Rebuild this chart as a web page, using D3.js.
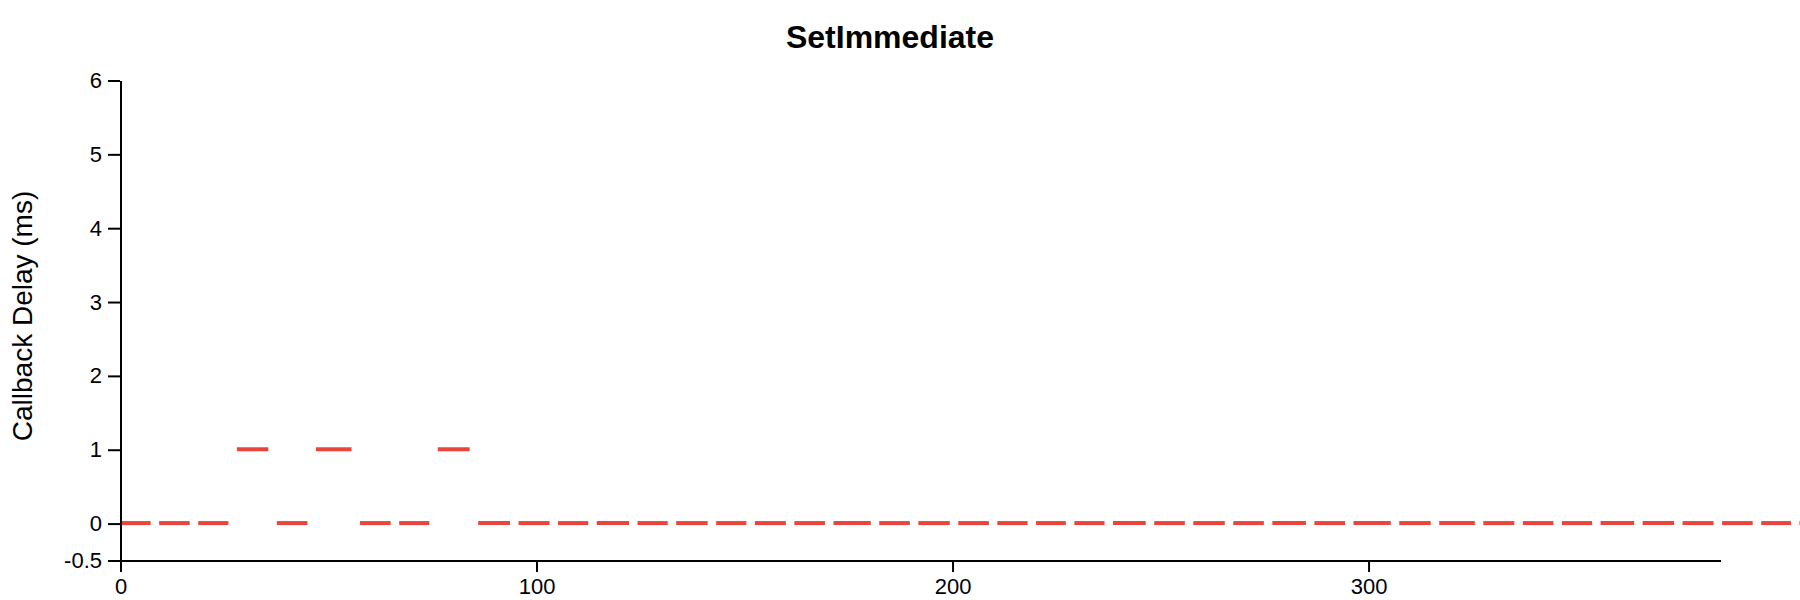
<!DOCTYPE html>
<html>
<head>
<meta charset="utf-8">
<script src="https://cdn.jsdelivr.net/npm/d3@7"></script>
<style>
  html, body { margin: 0; padding: 0; background: #fff; }
  svg { display: block; font-family: "Liberation Sans", Arial, Helvetica, sans-serif; }
</style>
</head>
<body>
<div id="chart"></div>
<script>
// Callback start times (ms); the last entry is the end of the final callback
const callbackTimes = [
  0, 9.4, 18.8, 28.1, 37.7, 47.1, 57.7, 67.1, 76.4, 86.1,
  95.8, 105.3, 114.6, 124.4, 133.7, 143.3, 152.6, 162.1, 171.5, 182.5,
  191.9, 201.5, 210.9, 220.2, 229.4, 238.7, 248.6, 258.0, 267.6, 277.0,
  287.1, 296.5, 307.5, 317.1, 327.7, 337.2, 346.6, 355.9, 366.0, 375.6,
  385.1, 394.5, 403.7, 413.0
];
// Callback delay (ms) for each callback
const callbackDelays = [
  0, 0, 0, 1, 0, 1, 0, 0, 1, 0,
  0, 0, 0, 0, 0, 0, 0, 0, 0, 0,
  0, 0, 0, 0, 0, 0, 0, 0, 0, 0,
  0, 0, 0, 0, 0, 0, 0, 0, 0, 0,
  0, 0, 0
];
const xTicks = [0, 100, 200, 300];
const yTicks = [-0.5, 0, 1, 2, 3, 4, 5, 6];
const xDomain = [0, 384.6];
const yDomain = [-0.5, 6];

const W = 900, H = 300;
const margin = { top: 40, right: 40, bottom: 20, left: 60 };

const svg = d3.select("#chart").append("svg")
  .attr("width", 1800).attr("height", 600)
  .attr("viewBox", `0 0 ${W} ${H}`);

const x = d3.scaleLinear().domain(xDomain).range([margin.left, W - margin.right]);
const y = d3.scaleLinear().domain(yDomain).range([H - margin.bottom, margin.top]);

const segs = callbackDelays.map((d, i) => ({ t0: callbackTimes[i], t1: callbackTimes[i + 1], v: d }));
const gap = 4.25;

svg.append("g").selectAll("line").data(segs).join("line")
  .attr("x1", d => x(d.t0))
  .attr("x2", d => x(d.t1) - gap)
  .attr("y1", d => y(d.v))
  .attr("y2", d => y(d.v))
  .attr("stroke", "#e9453a")
  .attr("stroke-width", 2)
  .attr("stroke-linecap", "butt");

const xAxis = svg.append("g")
  .attr("transform", `translate(0,${H - margin.bottom})`)
  .call(d3.axisBottom(x).tickValues(xTicks).tickSizeOuter(0).tickFormat(d => String(d)));
const yAxis = svg.append("g")
  .attr("transform", `translate(${margin.left},0)`)
  .call(d3.axisLeft(y).tickValues(yTicks).tickSizeOuter(0).tickFormat(d => String(d)));

[xAxis, yAxis].forEach(g => {
  g.attr("font-family", "Liberation Sans, Arial, Helvetica, sans-serif").attr("font-size", 11);
  g.selectAll("path, line").attr("stroke", "#000");
  g.selectAll("text").attr("fill", "#000");
});

svg.append("text")
  .attr("x", 445).attr("y", 24)
  .attr("text-anchor", "middle")
  .attr("font-size", 16).attr("font-weight", "bold")
  .text("SetImmediate");

svg.append("text")
  .attr("transform", "rotate(-90)")
  .attr("x", -158).attr("y", 16)
  .attr("text-anchor", "middle")
  .attr("font-size", 14)
  .text("Callback Delay (ms)");
</script>
</body>
</html>
